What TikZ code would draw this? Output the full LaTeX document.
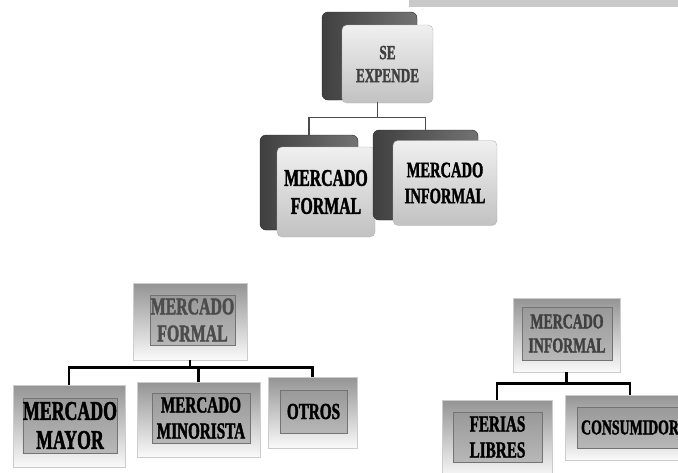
\documentclass[tikz,border=0pt]{standalone}
\usepackage{fontspec}
\newfontfamily\boxfont{Liberation Serif}[UprightFont=* Bold, FakeStretch=0.66, FakeBold=1.6]
\usetikzlibrary{calc,positioning}

\begin{document}
\begin{tikzpicture}[x=1pt,y=-1pt,every text node part/.style={align=center},
  backbox/.style={rounded corners=6pt, draw=black!85, left color=black!75, right color=black!55, inner sep=0pt},
  frontbox/.style={rounded corners=5pt, draw=black!30, top color=black!6, bottom color=black!24, inner sep=0pt, text=black!85},
  bevel/.style={draw=black!20, top color=black!42, bottom color=black!2, inner sep=0pt},
  bevelin/.style={draw=black!55, top color=black!40, bottom color=black!28, inner sep=0pt},
  lbl/.style 2 args={font=\boxfont\fontsize{#1}{#2}\selectfont},
  thinlink/.style={draw=black!70, line width=1.2pt},
  thicklink/.style={draw=black, line width=2.6pt}]

\useasboundingbox (0,0) rectangle (678,472);
\clip (0,0) rectangle (678,472);

    %% top bar
    \fill[black!21] (409,0) rectangle (678,7);

    %% se expende
    \node[backbox, minimum width=95pt, minimum height=88pt] (seback) at (369.5,56) {};
    \node[frontbox, lbl={20}{23}, minimum width=91pt, minimum height=78pt, text=black!75] (se) at (387.5,64) {SE\\EXPENDE};

    \node[backbox, minimum width=98pt, minimum height=95pt] (mfback) at (309,182.5) {};
    \node[frontbox, lbl={24}{28}, minimum width=98pt, minimum height=90pt, text=black] (mf) at (326,192) {MERCADO\\FORMAL};

    \node[backbox, minimum width=105pt, minimum height=90pt] (miback) at (425.5,175) {};
    \node[frontbox, lbl={22}{26}, minimum width=104pt, minimum height=85pt, text=black] (mi) at (445,183) {MERCADO\\INFORMAL};

    \coordinate (sejoin) at ($(seback.south west)!.5!(se.south east)$);
    \draw[thinlink] (sejoin) -- ++(0,16) coordinate (sefork) -| (mfback.north);
    \draw[thinlink] (sefork) -| (miback.north);

    %% mercado formal
    \node[bevel, minimum width=114pt, minimum height=77pt] (mfb) at (190,321.5) {};
    \node[bevelin, lbl={24}{27}, minimum width=85pt, minimum height=50pt, text=black!70] (mfbin) at (192.5,320) {MERCADO\\FORMAL};

    \node[bevel, minimum width=112pt, minimum height=82pt] (mmay) at (69,426) {};
    \node[bevelin, lbl={27}{29}, minimum width=90pt, minimum height=55pt] (mmayin) at (70,425.5) {MERCADO\\MAYOR};

    \node[bevel, minimum width=123pt, minimum height=75pt] (mmin) at (198.5,419.5) {};
    \node[bevelin, lbl={23}{26}, minimum width=98pt, minimum height=50pt] (mminin) at (201,418) {MERCADO\\MINORISTA};

    \node[bevel, minimum width=89pt, minimum height=71pt] (otros) at (312.5,412.5) {};
    \node[bevelin, lbl={23}{26}, minimum width=67pt, minimum height=43pt] (otrosin) at (313.5,411.5) {OTROS};

    \draw[thicklink] (mfb.south) -- ++(0,7) coordinate (mffork) -| (mmay.north);
    \draw[thicklink] (mffork) -| (mmin.north);
    \draw[thicklink] (mffork) -| (otros.north);

    %% mercado informal
    \node[bevel, minimum width=107pt, minimum height=74pt] (mib) at (566.5,335) {};
    \node[bevelin, lbl={21}{24}, minimum width=90pt, minimum height=53pt, text=black!75] (mibin) at (567,333.5) {MERCADO\\INFORMAL};

    \node[bevel, minimum width=110pt, minimum height=78pt] (feri) at (497,439) {};
    \node[bevelin, lbl={23}{26}, minimum width=89pt, minimum height=50pt] (feriin) at (497.5,437) {FERIAS\\LIBRES};

    \node[bevel, minimum width=130pt, minimum height=65pt] (cons) at (630,427.5) {};
    \node[bevelin, lbl={21}{24}, minimum width=106pt, minimum height=41pt] (consin) at (630,427.5) {CONSUMIDOR};

    \draw[thicklink] (mib.south) -- ++(0,11) coordinate (mifork) -| (feri.north);
    \draw[thicklink] (mifork) -| (cons.north);
\end{tikzpicture}
\end{document}
